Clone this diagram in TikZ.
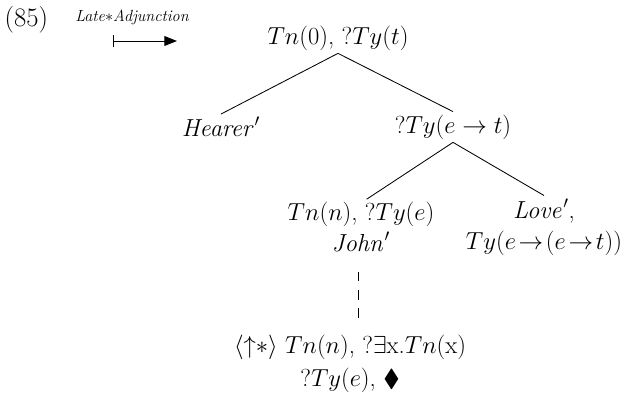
\RequirePackage{fix-cm}
\documentclass[tikz,border=0pt]{standalone}
\usepackage{amssymb}
\usetikzlibrary{positioning, arrows.meta, calc}

\begin{document}
\begin{tikzpicture}[
          tn/.style={inner sep=2pt, align=center,
                     font=\fontsize{17.5}{22}\selectfont},
          br/.style={line width=0.6pt},
          lnk/.style={line width=0.7pt, dash pattern=on 7pt off 6pt}]
        \useasboundingbox (0,0) rectangle (15.775,9.875);
        \node[tn, font=\fontsize{19}{21}\selectfont] (ex) at (0.66, 9.375) {(85)};
        \node[font=\fontsize{11.5}{13}\selectfont\itshape] (rule) at (3.3, 9.43) {Late$*$Adjunction};
        \coordinate (arrS) at (2.825, 8.85);
        \coordinate (arrE) at (4.425, 8.85);
        \draw[{Bar[width=9pt]}-{Triangle[length=9pt, width=7pt]}, line width=0.7pt] (arrS) -- (arrE);
        \node[tn] (root) at (8.45, 8.925) {$Tn(0)$, ?$Ty(t)$};
        \node[tn] (hear) at (5.525, 6.7) {$\mathit{Hearer}'$};
        \node[tn] (pred) at (11.325, 6.7) {?$Ty(e\rightarrow t)$};
        \node[tn] (subj) at (9.025, 4.2) {$Tn(n)$, ?$Ty(e)$\\ $\mathit{John}'$};
        \node[tn] (love) at (13.6, 4.2) {$\mathit{Love}'$,\\ $Ty(e\!\rightarrow\!(e\!\rightarrow\! t))$};
        \node[tn, font=\fontsize{17.5}{23}\selectfont] (link) at (8.75, 0.775)
          {$\langle{\uparrow}{*}\rangle$ $Tn(n)$, ?$\exists$x.$Tn$(x)\\ ?$Ty(e)$, $\blacklozenge$};
        \draw[br] (root.south) -- (hear.north);
        \draw[br] (root.south) -- (pred.north);
        \draw[br] (pred.south) -- ([xshift=4pt]subj.north);
        \draw[br] (pred.south) -- (love.north);
        \draw[lnk, shorten <=0.42cm, shorten >=0.25cm] ([xshift=-2pt]subj.south) -- ([xshift=-2pt]subj.south |- link.north);
      \end{tikzpicture}
\end{document}
